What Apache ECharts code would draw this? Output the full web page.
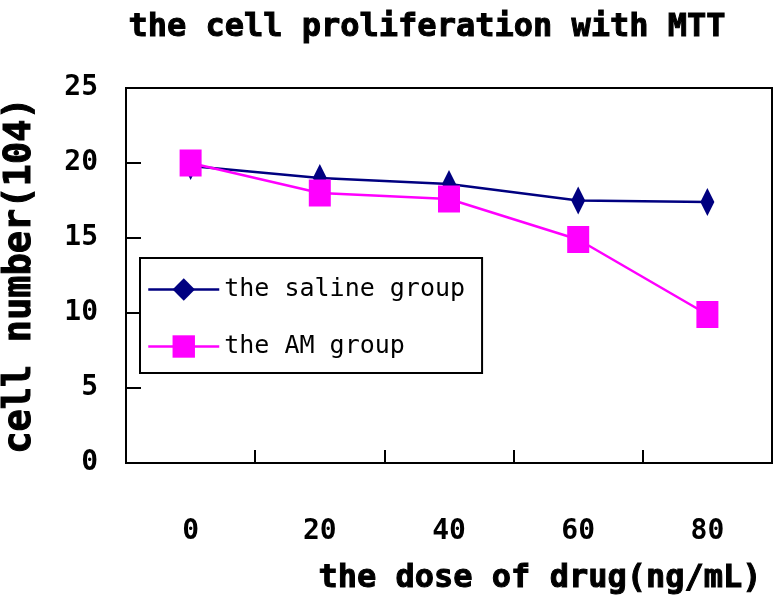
<!DOCTYPE html>
<html>
<head>
<meta charset="utf-8">
<script src="https://cdn.jsdelivr.net/npm/echarts@6/dist/echarts.min.js"></script>
<style>
  html, body { margin: 0; padding: 0; background: #fff; }
  #chart { width: 776px; height: 599px; }
</style>
</head>
<body>
<div id="chart"></div>
<script>
// dose of drug (ng/mL)
var doses = ['0', '20', '40', '60', '80']
// cell number (10^4)
var salineGroup = [19.8, 19.0, 18.6, 17.5, 17.4]
var amGroup = [20.0, 18.0, 17.6, 14.9, 9.9]
var seriesNames = ['the saline group', 'the AM group']

var monoFont = '"DejaVu Sans Mono", "Liberation Mono", monospace'

var chart = echarts.init(document.getElementById('chart'))

var option = {
  animation: false,
  backgroundColor: '#fff',
  title: {
    text: 'the cell proliferation with MTT',
    left: 427,
    textAlign: 'center',
    top: 12,
    padding: 0,
    textStyle: {
      fontFamily: monoFont,
      fontWeight: 'bold',
      fontSize: 32,
      color: '#000',
      textBorderColor: '#000',
      textBorderWidth: 1
    }
  },
  legend: {
    orient: 'vertical',
    left: 140,
    top: 258,
    padding: [19, 17, 14, 7],
    itemWidth: 71,
    itemHeight: 28,
    itemGap: 32,
    borderColor: '#000',
    borderWidth: 2,
    backgroundColor: '#fff',
    lineStyle: { width: 2.5 },
    textStyle: {
      fontFamily: monoFont,
      fontSize: 25,
      color: '#000'
    },
    data: seriesNames
  },
  grid: {
    left: 126,
    right: 4,
    top: 88,
    bottom: 136,
    outerBoundsMode: 'none',
    containLabel: false,
    show: true,
    borderColor: '#000',
    borderWidth: 2,
    backgroundColor: 'transparent'
  },
  xAxis: {
    type: 'category',
    data: doses,
    boundaryGap: true,
    name: 'the dose of drug(ng/mL)',
    nameLocation: 'middle',
    nameGap: 100,
    nameTextStyle: {
      fontFamily: monoFont,
      fontWeight: 'bold',
      fontSize: 32,
      color: '#000',
      textBorderColor: '#000',
      textBorderWidth: 1,
      padding: [0, 0, 0, 182]
    },
    axisLine: { show: true, lineStyle: { color: '#000', width: 2 } },
    axisTick: {
      show: true,
      interval: 0,
      alignWithLabel: false,
      inside: true,
      length: 13,
      lineStyle: { color: '#000', width: 2 }
    },
    axisLabel: {
      margin: 55,
      interval: 0,
      fontFamily: monoFont,
      fontWeight: 'bold',
      fontSize: 28,
      color: '#000'
    },
    splitLine: { show: false }
  },
  yAxis: {
    type: 'value',
    min: 0,
    max: 25,
    interval: 5,
    name: 'cell number(104)',
    nameLocation: 'middle',
    nameGap: 87,
    nameTextStyle: {
      fontFamily: monoFont,
      fontWeight: 'bold',
      fontSize: 37,
      color: '#000',
      textBorderColor: '#000',
      textBorderWidth: 1
    },
    axisLine: { show: true, lineStyle: { color: '#000', width: 2 } },
    axisTick: { show: true, inside: true, length: 15, lineStyle: { color: '#000', width: 2 } },
    axisLabel: {
      margin: 28,
      fontFamily: monoFont,
      fontWeight: 'bold',
      fontSize: 28,
      color: '#000'
    },
    splitLine: { show: false }
  },
  series: [
    {
      name: seriesNames[0],
      type: 'line',
      data: salineGroup,
      symbol: 'diamond',
      symbolSize: [14, 28],
      color: '#000080',
      lineStyle: { color: '#000080', width: 2.5 },
      itemStyle: { color: '#000080' }
    },
    {
      name: seriesNames[1],
      type: 'line',
      data: amGroup,
      symbol: 'rect',
      symbolSize: [22, 27],
      color: '#ff00ff',
      lineStyle: { color: '#ff00ff', width: 2.5 },
      itemStyle: { color: '#ff00ff' }
    }
  ]
}

chart.setOption(option)
</script>
</body>
</html>
